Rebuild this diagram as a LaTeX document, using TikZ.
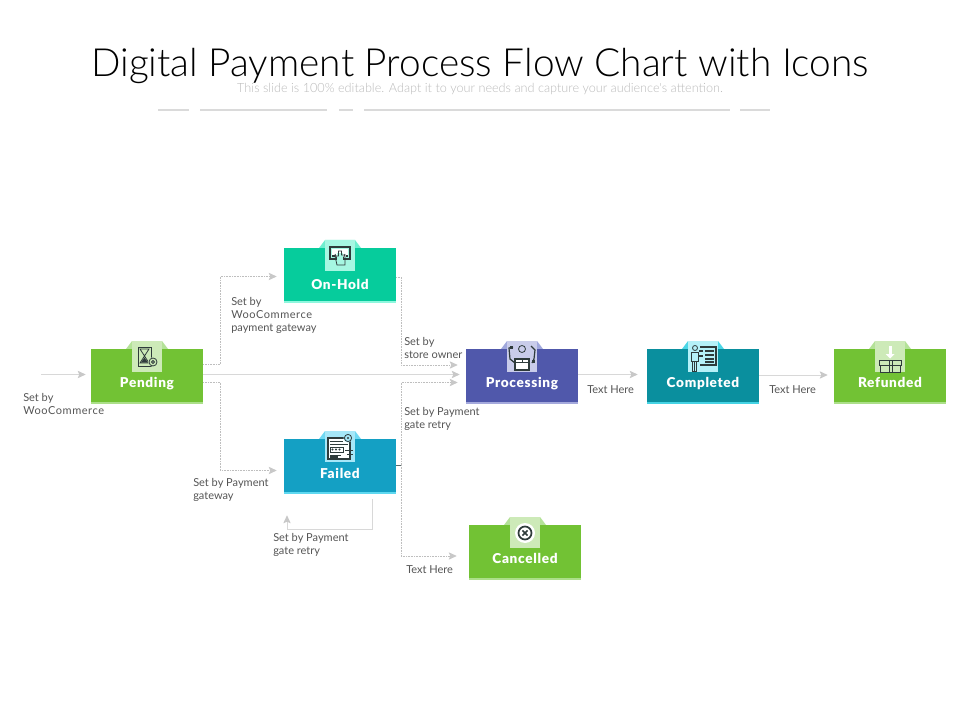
\documentclass[tikz,border=0pt]{standalone}
\usepackage{fontspec}
\setmainfont{Lato}
\newfontfamily\lightfont{Lato Light}
\newfontfamily\heavyfont[LetterSpace=5]{Lato Black}
\newcommand\wideword[1]{{\addfontfeature{LetterSpace=5}#1}}
\usetikzlibrary{arrows.meta,calc}
\definecolor{linegrey}{HTML}{D8D8D8}
\definecolor{tipgrey}{HTML}{C8C8C8}
\definecolor{dotgrey}{HTML}{BEBEBE}
\definecolor{labelgrey}{HTML}{555555}
\definecolor{icondark}{HTML}{2F3B3B}
\definecolor{subgrey}{HTML}{BBBBBB}
\definecolor{rulegrey}{HTML}{DADADA}
\definecolor{stubgrey}{HTML}{5A6A6A}
\definecolor{gmain}{HTML}{72C234}\definecolor{gbar}{HTML}{ACDF8A}\definecolor{gtab}{HTML}{B4E298}\definecolor{gsq}{HTML}{CDEAB8}
\definecolor{omain}{HTML}{06CC9C}\definecolor{obar}{HTML}{8FF7DE}\definecolor{otab}{HTML}{6FEFCF}\definecolor{osq}{HTML}{A6F7E2}
\definecolor{pmain}{HTML}{5058AB}\definecolor{pbar}{HTML}{A4A9DC}\definecolor{ptab}{HTML}{A0A8DC}\definecolor{psq}{HTML}{C9CCEA}
\definecolor{cmain}{HTML}{0A8F9E}\definecolor{cbar}{HTML}{45D3E4}\definecolor{ctab}{HTML}{4BD6E6}\definecolor{csq}{HTML}{B5F1F8}
\definecolor{fmain}{HTML}{14A0C4}\definecolor{fbar}{HTML}{5FD8F0}\definecolor{ftab}{HTML}{6FD8F2}\definecolor{fsq}{HTML}{A6E7F8}
\tikzset{
  x=0.75pt,y=-0.75pt,
  solidflow/.style={draw=linegrey,line width=0.7pt,-{Stealth[length=6pt,width=5.5pt,inset=1.2pt,color=tipgrey]}},
  dotflow/.style={draw=dotgrey,line width=0.6pt,dash pattern=on 0.6pt off 0.6pt,-{Stealth[length=6pt,width=5.5pt,inset=1.2pt,color=tipgrey]}},
  stepbox/.style={minimum width=84pt,minimum height=41.25pt,inner sep=0pt,text=white,
    font=\heavyfont\fontsize{10.2pt}{12pt}\selectfont,text height=16pt,text depth=0pt},
  note/.style={anchor=north west,inner sep=0pt,align=left,text=labelgrey,
    font=\fontsize{8.25pt}{9.9pt}\selectfont},
  ico/.style={draw=icondark,line width=0.6pt,fill=none},
  toprule/.style={draw=rulegrey,line width=1.4pt}
}
% name, left, top, main, bar, tab, square, text, icon code
\newcommand\procbox[9]{%
  \begin{scope}[shift={(#2,#3)}]
    \fill[#6] (35,0) -- (41,-8) -- (71,-8) -- (77,0) -- cycle;
    \node[stepbox,fill=#4] (#1) at (56,27.5) {#8};
    \fill[#5] (0,53) rectangle (112,55);
    \fill[#7] (41,-8) rectangle (71,23);
    \begin{scope}[shift={(56,8)}]#9\end{scope}
  \end{scope}}
\begin{document}
\begin{tikzpicture}
\useasboundingbox (0,0) rectangle (960,720);
\fill[white] (0,0) rectangle (960,720);
\node[inner sep=0pt,font=\lightfont\fontsize{29.1pt}{34pt}\selectfont,text=black] (title) at (480,65.5) {Digital Payment Process Flow Chart with Icons};
\node[inner sep=0pt,font=\lightfont\fontsize{9.5pt}{12pt}\selectfont,text=subgrey] (subtitle) at (480,89.5) {This slide is 100\% editable. Adapt it to your needs and capture your audience's attention.};
\draw[toprule] (158,110) -- (189,110);
\draw[toprule] (200,110) -- (327,110);
\draw[toprule] (339,110) -- (353,110);
\draw[toprule] (364,110) -- (730,110);
\draw[toprule] (740,110) -- (770,110);

\procbox{pending}{91}{349}{gmain}{gbar}{gtab}{gsq}{Pending}{%
  \draw[ico] (-9,-10) rectangle (4,9);
  \draw[ico] (-7,-8) -- (2,-8) -- (-2.5,-1) -- (2,6) -- (-7,6) -- (-2.5,-1) -- cycle;
  \fill[icondark] (-6,5.5) -- (-2.5,0.5) -- (1,5.5) -- cycle;
  \fill[gsq] (6,5) circle (5);
  \draw[ico] (6,5) circle (4);
  \draw[ico] (6,5) circle (1.5);}
\procbox{onhold}{284}{248}{omain}{obar}{otab}{osq}{\raisebox{-2.2pt}{On-Hold}}{%
  \draw[ico,line width=0.8pt] (-10,-9) rectangle (10,3);
  \fill[white] (-8,-7) rectangle (8,1);
  \draw[ico] (-5,-2) arc (180:0:5);
  \fill[icondark] (-8,-1) rectangle (-5.5,1);\fill[icondark] (5.5,-1) rectangle (8,1);
  \fill[osq] (-3,-3) rectangle (3,10);
  \draw[ico] (-1.5,-5) -- (-1.5,0) -- (-5,0) -- (-3,9) -- (5,9) -- (5,-1) -- (1.5,-1) -- (1.5,-5) -- cycle;}
\procbox{processing}{466}{349}{pmain}{pbar}{ptab}{psq}{Processing}{%
  \draw[ico] (0,-8) circle (3.5);
  \draw[ico,line width=0.9pt] (-9,-10) -- (-13,-9) -- (-12,2) -- (-7,6);
  \draw[ico,line width=0.9pt] (9,-11) -- (13,-7) -- (12,2) -- (10,6);
  \draw[ico,line width=0.8pt,fill=white] (-7,2) rectangle (7,13);
  \draw[ico] (-7,5) -- (7,5);
  \draw[ico] (0,2) -- (0,5);
  \fill[icondark] (-12,-11) rectangle (-9,-8);
  \fill[icondark] (10,3) rectangle (13,6);}
\procbox{completed}{647}{349}{cmain}{cbar}{ctab}{csq}{Completed}{%
  \draw[ico] (-8,-9) circle (2.5);
  \draw[ico] (-12,-5) rectangle (-5,4);
  \draw[ico] (-10.5,4) rectangle (-6.5,14);
  \draw[ico] (-8.5,4) -- (-8.5,14);
  \draw[ico,line width=0.8pt] (-3,-10) -- (13,-10) -- (13,8) -- (-3,8);
  \foreach \yy in {-6,-2,2,5}{\draw[icondark,line width=1pt] (2,\yy) -- (11,\yy);}
  \draw[ico,line width=1pt] (-4,-6) -- (0,-6);
  \draw[ico,line width=1pt] (-4,-1) -- (0,-1);}
\procbox{refunded}{834}{349}{gmain}{gbar}{gtab}{gsq}{Refunded}{%
  \fill[white] (-1.5,-11) rectangle (1.5,-3);
  \fill[white] (-4.5,-3) -- (4.5,-3) -- (0,1.5) -- cycle;
  \draw[ico] (-11,3) rectangle (11,8);
  \draw[ico] (-10,8) rectangle (10,15);
  \draw[ico] (2,3) -- (2,15);
  \draw[ico] (-1,3) -- (-1,15);}
\procbox{failed}{284}{439}{fmain}{fbar}{ftab}{fsq}{\raisebox{-0.8pt}{Failed}}{%
  \fill[white] (-12,-9) rectangle (10,12);
  \draw[ico,line width=0.9pt] (-12,-9) rectangle (10,12);
  \draw[ico] (-10,-6) -- (3,-6);
  \draw[ico] (-10,-3) -- (8,-3);
  \draw[ico] (-10,0) rectangle (3,5);
  \foreach \xx in {-7.5,-4,-0.5}{\fill[icondark] (\xx,2.5) circle (1.2);}
  \draw[ico] (-10,8) -- (1,8);
  \fill[icondark] (-10,9) rectangle (-2,11);
  \fill[fsq] (8,-9) circle (4.5);
  \draw[ico] (8,-9) circle (3.6);
  \fill[icondark] (8,-9) circle (1.2);
  \draw[ico] (5,3) -- (13,3);
  \draw[ico] (7,7) -- (13,7);}
\procbox{cancelled}{469}{525}{gmain}{gbar}{gtab}{gsq}{Cancelled}{%
  \fill[white] (0,0) circle (10);
  \draw[icondark,line width=1.3pt] (0,0) circle (6.5);
  \draw[icondark,line width=1.1pt] (-2.6,-2.6) -- (2.6,2.6);
  \draw[icondark,line width=1.1pt] (-2.6,2.6) -- (2.6,-2.6);}

\coordinate (entry) at (41,374.5);
\coordinate (upjoint) at (401,465);
\draw[solidflow] (entry) -- ($(pending.west)+(-5,-2)$);
\draw[dotflow] ($(pending.east)+(0,-12)$) -- ++(17,0) |- ($(onhold.west)+(-7,1)$);
\draw[solidflow] ($(pending.east)+(0,-2)$) -- ($(processing.west)+(-6,-2)$);
\draw[dotflow] ($(pending.east)+(0,5.5)$) -- ++(17,0) |- ($(failed.west)+(-7,4)$);
\draw[dotflow] ($(onhold.east)+(0,1.5)$) -- ++(5,0) |- ($(processing.west)+(-8,-11.5)$);
\draw[stubgrey,line width=0.4pt] (failed.east |- upjoint) -- (upjoint);
\draw[dotflow] (upjoint) |- ($(processing.west)+(-8,6)$);
\draw[dotflow] (upjoint) |- ($(cancelled.west)+(-12,3.5)$);
\draw[solidflow] ($(failed.south)+(32,5)$) |- ($(failed.south)+(-53,35)$) -- ($(failed.south)+(-53,21)$);
\draw[solidflow] ($(processing.east)+(0,-2)$) -- ($(completed.west)+(-9,-2)$);
\draw[solidflow] ($(completed.east)+(0,-1.5)$) -- ($(refunded.west)+(-6,-1.5)$);

\node[note] (n1) at (23,393) {Set by\\\wideword{WooCommerce}};
\node[note] (n2) at (231,297) {Set by\\\wideword{WooCommerce}\\payment gateway};
\node[note] (n3) at (193,478) {Set by Payment\\gateway};
\node[note] (n4) at (273,533) {Set by Payment\\gate retry};
\node[note] (n5) at (404,337) {Set by\\store owner};
\node[note] (n6) at (404,407) {Set by Payment\\gate retry};
\node[note] (n7) at (587,385) {Text Here};
\node[note] (n8) at (769,385) {Text Here};
\node[note] (n9) at (406,565) {Text Here};
\end{tikzpicture}
\end{document}
